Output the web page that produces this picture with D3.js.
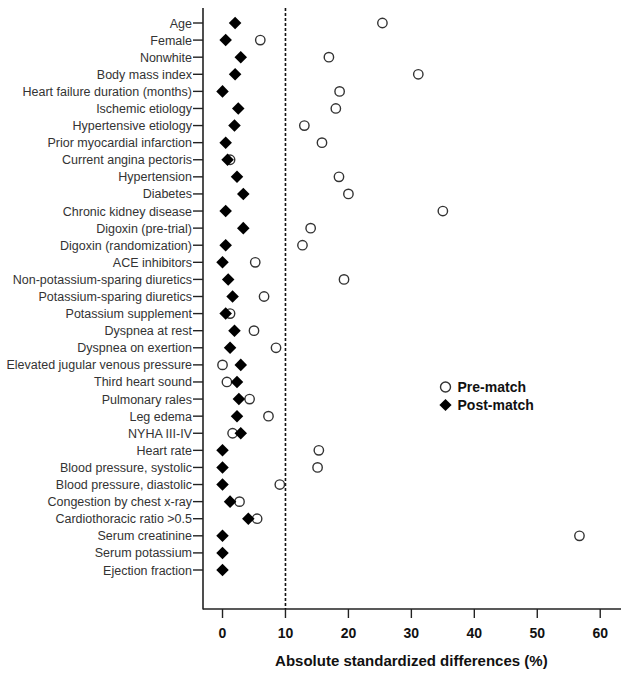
<!DOCTYPE html>
<html><head><meta charset="utf-8">
<script src="https://cdn.jsdelivr.net/npm/d3@7"></script>
<style>body{margin:0;background:#fff}svg{display:block}</style>
</head><body>
<svg id="c" width="629" height="676"></svg>
<script>
const categories = ["Age","Female","Nonwhite","Body mass index","Heart failure duration (months)","Ischemic etiology","Hypertensive etiology","Prior myocardial infarction","Current angina pectoris","Hypertension","Diabetes","Chronic kidney disease","Digoxin (pre-trial)","Digoxin (randomization)","ACE inhibitors","Non-potassium-sparing diuretics","Potassium-sparing diuretics","Potassium supplement","Dyspnea at rest","Dyspnea on exertion","Elevated jugular venous pressure","Third heart sound","Pulmonary rales","Leg edema","NYHA III-IV","Heart rate","Blood pressure, systolic","Blood pressure, diastolic","Congestion by chest x-ray","Cardiothoracic ratio >0.5","Serum creatinine","Serum potassium","Ejection fraction"];
// pre-match values not visible for the last two rows (hidden / not shown)
const preMatch = [25.4,6.0,16.9,31.1,18.6,18.0,13.0,15.8,1.2,18.5,20.0,35.0,14.0,12.7,5.2,19.3,6.6,1.2,5.0,8.5,0.0,0.7,4.3,7.3,1.6,15.3,15.1,9.1,2.7,5.5,56.7,null,null];
const postMatch = [2.0,0.5,2.9,2.0,0.0,2.5,1.9,0.5,0.8,2.3,3.3,0.5,3.3,0.5,0.0,0.9,1.6,0.5,1.9,1.2,2.9,2.3,2.6,2.3,2.9,0.0,0.0,0.0,1.2,4.1,0.0,0.0,0.0];
const xTicks = [0,10,20,30,40,50,60];
const threshold = 10;
const xTitle = "Absolute standardized differences (%)";
const legendLabels = ["Pre-match","Post-match"];

const svg = d3.select("#c");
const pLeft = 203, pRight = 621, pTop = 8, pBottom = 609;
const x = d3.scaleLinear().domain([-3.1, 63.3]).range([pLeft, pRight]);
const y = d3.scalePoint().domain(categories).range([23, 570]);
const ink = "#222";
const font = "Liberation Sans, Arial, sans-serif";

// axes lines
svg.append("line").attr("x1",pLeft).attr("x2",pLeft).attr("y1",pTop).attr("y2",pBottom+0.5)
  .attr("stroke",ink).attr("stroke-width",1.6);
svg.append("line").attr("x1",pLeft).attr("x2",pRight).attr("y1",pBottom).attr("y2",pBottom)
  .attr("stroke",ink).attr("stroke-width",1.6);

// y ticks & labels
const yg = svg.append("g");
categories.forEach(c => {
  yg.append("line").attr("x1",pLeft-10).attr("x2",pLeft).attr("y1",y(c)).attr("y2",y(c))
    .attr("stroke",ink).attr("stroke-width",1.4);
  yg.append("text").attr("x",pLeft-11).attr("y",y(c)).attr("dy","0.36em")
    .attr("text-anchor","end").attr("font-family",font)
    .attr("font-size",12.5).attr("fill","#333").text(c);
});

// x ticks
const xg = svg.append("g");
xTicks.forEach(t => {
  xg.append("line").attr("x1",x(t)).attr("x2",x(t)).attr("y1",pBottom).attr("y2",pBottom+9)
    .attr("stroke",ink).attr("stroke-width",1.4);
  xg.append("text").attr("x",x(t)).attr("y",638).attr("text-anchor","middle")
    .attr("font-family",font).attr("font-weight","bold")
    .attr("font-size",14).attr("fill","#111").text(t);
});
svg.append("text").attr("x",(x(0)+x(60))/2).attr("y",665.5).attr("text-anchor","middle")
  .attr("font-family",font).attr("font-weight","bold")
  .attr("font-size",15).attr("fill","#111").text(xTitle);

// threshold line
svg.append("line").attr("x1",x(threshold)).attr("x2",x(threshold)).attr("y1",pTop).attr("y2",pBottom)
  .attr("stroke","#111").attr("stroke-width",1.6).attr("stroke-dasharray","3,2");

// pre-match circles
const preIdx = categories.map((c,i)=>i).filter(i=>preMatch[i]!==null);
svg.append("g").selectAll("circle").data(preIdx).join("circle")
  .attr("cx",i=>x(preMatch[i])).attr("cy",i=>y(categories[i])).attr("r",4.7)
  .attr("fill","#fff").attr("stroke","#333").attr("stroke-width",1.4);

// post-match diamonds
const diamond = d3.symbol().type(d3.symbolDiamond2).size(100);
svg.append("g").selectAll("path").data(categories).join("path")
  .attr("transform",(d,i)=>`translate(${x(postMatch[i])},${y(d)})`)
  .attr("d",diamond).attr("fill","#000");

// legend
const lg = svg.append("g").attr("transform","translate(445.5,387)");
lg.append("circle").attr("cx",0).attr("cy",0).attr("r",5).attr("fill","#fff").attr("stroke","#333").attr("stroke-width",1.4);
lg.append("path").attr("transform","translate(0,18)").attr("d",d3.symbol().type(d3.symbolDiamond2).size(95)).attr("fill","#000");
legendLabels.forEach((l,i)=>{
  lg.append("text").attr("x",12).attr("y",i*18).attr("dy","0.36em")
    .attr("font-family",font).attr("font-weight","bold")
    .attr("font-size",14).attr("fill","#111").text(l);
});
</script>
</body></html>
